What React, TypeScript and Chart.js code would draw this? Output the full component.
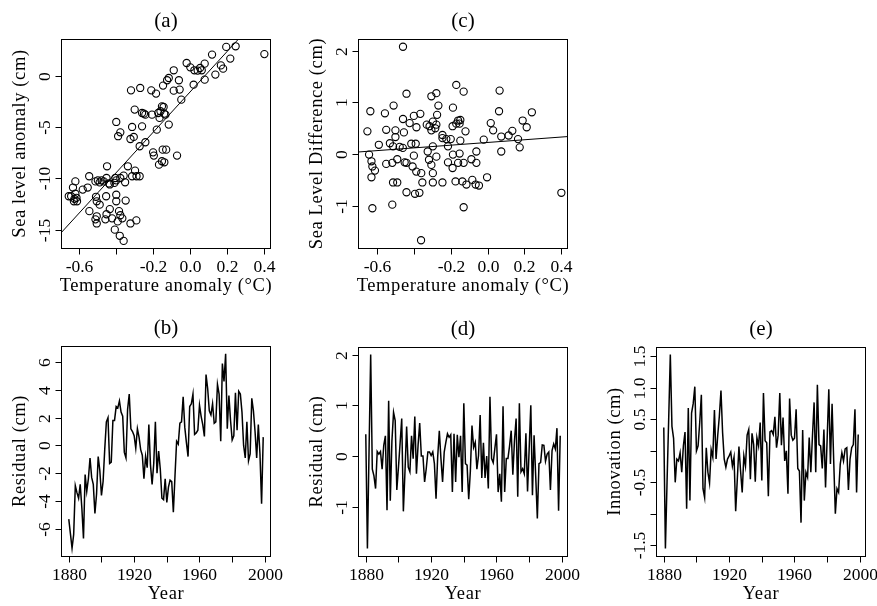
import React, { useEffect, useRef } from 'react';
import { Chart, registerables } from 'chart.js';

Chart.register(...registerables);

// ---------- data ----------
const years: number[] = Array.from({ length: 120 }, (_, i) => 1880 + i);

// (b) residual from the temperature regression, cm
const residualB: number[] = [
  -5.3, -6.35, -7.4, -6.4, -2.9, -3.4, -3.8, -2.8, -4.5, -6.7,
  -2.1, -3.3, -2.4, -0.9, -2.3, -2.8, -4.9, -3.5, -0.8, -1.8,
  -3.6, -2.6, -0.3, 1.7, 2.0, -1.3, -1.2, 1.8, 1.8, 2.8,
  2.7, 3.2, 2.4, 2.1, -0.5, -0.9, 2.6, 3.7, 1.2, 1.0,
  0.7, -0.2, 1.2, 0.6, -0.3, -0.7, -2.4, -0.8, -1.6, 1.5,
  -1.4, -2.8, -1.3, 1.7, -2.0, -0.4, -1.7, -3.8, -3.9, -2.4,
  -4.1, -3.0, -2.5, -2.6, -4.8, -2.2, 0.3, 0.1, 1.6, 1.7,
  3.5, 1.3, 0.2, -0.8, 2.8, 3.0, 3.7, 0.8, 0.9, 1.1,
  2.9, 2.1, 1.5, 0.65, 5.1, 4.1, 2.5, 2.2, 3.0, 1.6,
  1.7, 4.4, 3.7, 0.3, 5.9, 4.6, 6.6, 1.2, 3.6, 1.8,
  0.4, 0.7, 3.8, 1.1, 3.9, 3.7, 2.4, 0.0, -0.9, 1.7,
  -1.1, -0.6, 3.4, 2.5, 1.0, -0.9, 1.5, -0.6, -4.2, 0.6,
];

// (d) residual of the sea level difference, cm
const residualD: number[] = [
  0.43, -1.82, 0.1, 2.0, -0.26, -0.39, -0.64, 0.09, 0.04, 0.09,
  -0.26, 0.21, 0.40, -1.07, 1.09, -0.88, 0.3, 0.86, 0.70, -0.67,
  -0.22, 0.25, 0.74, -1.09, -0.3, 0.58, -0.22, -0.31, 0.40, -0.05,
  0.78, -0.35, 0.21, 0.65, 0.0, 0.0, -0.51, -0.25, 0.08, 0.08,
  0.01, 0.08, -0.15, -0.84, -0.02, 0.5, -0.05, -0.51, 0.08, 0.27,
  0.44, 0.37, 0.42, -0.71, 0.44, -0.51, 0.42, -0.02, 0.40, -0.71,
  1.04, -0.15, -0.18, -0.85, -0.3, 0.6, 0.17, 0.27, -0.26, 0.01,
  0.81, -0.43, 0.26, -0.43, 0.0, -0.64, 1.17, -0.05, -0.13, 0.15,
  0.43, -0.71, -0.35, -0.9, 0.98, -0.71, -0.05, -0.05, 0.2, 0.5,
  -0.37, 0.3, 0.74, -0.8, 1.04, -0.31, -0.25, -0.35, 0.45, -0.7,
  0.15, 1.0, -0.77, 0.41, -0.4, -1.23, -0.15, -0.13, 0.22, 0.21,
  -0.1, 0.04, 0.08, -0.67, 0.11, 0.24, 0.14, 0.55, -1.08, 0.4,
];

// (e) innovation, cm
const innovationE: number[] = [
  0.37, -1.55, -0.5, 0.5, 1.53, 0.39, 0.2, -0.5, -0.13, -0.16,
  -0.03, -0.34, 0.08, 0.3, -0.92, 0.68, -0.79, 0.6, 0.75, 1.02,
  0.0, 0.08, 0.45, 0.89, -0.6, -0.74, 0.05, -0.34, -0.51, 0.02,
  -0.1, 0.65, -0.13, 0.24, 0.55, 0.96, 0.29, -0.13, -0.26, -0.13,
  -0.08, -0.02, -0.24, -0.1, -0.96, -0.45, 0.07, -0.32, -0.66, -0.08,
  -0.24, 0.25, 0.34, -0.45, 0.28, 0.1, -0.49, 0.21, 0.08, 0.45,
  -0.47, 0.92, 0.16, 0.13, -0.72, 0.3, 0.32, 0.26, 0.54, 0.05,
  0.25, 0.92, 0.09, 0.53, -0.16, 0.0, -0.68, 0.83, 0.25, 0.17,
  0.2, 0.66, -0.28, -0.32, -1.14, 0.33, -0.79, -0.34, -0.42, 0.21,
  -0.34, 0.24, 0.77, -0.34, 1.05, 0.1, 0.08, -0.28, 0.34, -0.58,
  0.2, 0.98, -0.21, 0.75, -0.16, -1.0, -0.6, -0.66, -0.21, -0.03,
  -0.16, 0.03, 0.05, -0.62, -0.13, 0.05, 0.1, 0.66, -0.66, 0.26,
];

// (a) temperature anomaly vs sea level anomaly
const tempA: number[] = [
  0.404, 0.248, 0.197, 0.219, 0.12, 0.168, 0.18, 0.138, 0.08, 0.064,
  0.055, 0.042, 0.024, 0.002, -0.018, 0.08, 0.02, -0.047, -0.056, -0.06,
  -0.088, -0.088, -0.115, -0.124, -0.146, -0.184, -0.21, -0.27, -0.32, -0.30,
  -0.26, -0.242, -0.25, -0.206, -0.172, -0.165, -0.16, -0.152, -0.143, -0.14,
  -0.133, -0.115, -0.18, -0.26, -0.314, -0.323, -0.305, -0.378, -0.39, -0.40,
  -0.273, -0.242, -0.20, -0.196, -0.168, -0.152, -0.139, -0.148, -0.129, -0.07,
  -0.337, -0.298, -0.29, -0.273, -0.314, -0.36, -0.352, -0.378, -0.405, -0.41,
  -0.45, -0.453, -0.435, -0.468, -0.48, -0.49, -0.50, -0.513, -0.547, -0.555,
  -0.582, -0.622, -0.635, -0.622, -0.616, -0.627, -0.645, -0.658, -0.613, -0.63,
  -0.51, -0.455, -0.49, -0.506, -0.40, -0.40, -0.349, -0.546, -0.506, -0.513,
  -0.506, -0.459, -0.453, -0.435, -0.423, -0.385, -0.378, -0.367, -0.392, -0.408,
  -0.381, -0.36, -0.323, -0.291, -0.44, -0.40,
];
const seaA: number[] = [
  2.1, 2.86, 2.8, 1.66, 2.05, 1.0, 0.68, 0.1, 1.17, 0.52,
  0.75, 0.49, 0.52, 0.81, 1.23, -0.39, -0.88, -2.34, -1.36, -0.45,
  0.52, -1.46, -0.23, -0.45, -0.97, -1.75, -1.43, -1.2, -1.43, -3.31,
  -3.64, -3.8, -3.7, -3.8, -3.64, -4.12, -3.47, -2.99, -3.05, -3.7,
  -3.8, -4.77, -5.26, -4.94, -5.0, -6.17, -5.97, -5.52, -5.9, -4.51,
  -6.88, -6.49, -7.47, -7.79, -8.67, -8.34, -8.44, -7.21, -7.21, -7.79,
  -8.83, -9.25, -9.8, -9.8, -9.8, -9.74, -10.39, -9.97, -9.97, -10.45,
  -8.83, -9.97, -10.6, -10.3, -10.2, -10.4, -10.2, -10.3, -9.8, -10.9,
  -11.1, -10.3, -10.9, -11.5, -11.9, -12.0, -11.75, -11.75, -12.24, -12.24,
  -11.8, -11.75, -12.57, -12.24, -11.6, -12.24, -12.17, -13.2, -13.7, -14.0,
  -14.4, -14.0, -13.5, -13.0, -13.9, -13.2, -13.6, -13.9, -14.2, -15.0,
  -15.6, -16.1, -14.4, -14.1, -10.5, -10.2,
];
const interceptA = -1.6;
const slopeA = 19.6;

// (c) temperature anomaly vs sea level difference
const tempC: number[] = [
  -0.459, -0.17, -0.13, 0.065, -0.44, -0.278, -0.305, -0.636, -0.51, -0.557,
  -0.459, -0.4, -0.365, -0.267, -0.188, -0.274, 0.062, 0.19, 0.24, 0.212,
  -0.652, -0.55, -0.5, -0.454, -0.423, -0.5, -0.386, -0.33, -0.315, -0.297,
  -0.278, -0.284, -0.305, -0.245, -0.245, -0.19, -0.17, -0.16, -0.148, -0.152,
  -0.2, -0.12, -0.148, 0.017, 0.03, -0.021, 0.074, 0.114, 0.134, 0.165,
  0.174, 0.074, -0.59, -0.53, -0.513, -0.477, -0.45, -0.414, -0.39, -0.325,
  -0.318, -0.305, -0.297, -0.278, -0.297, -0.297, -0.354, -0.36, -0.387, -0.4,
  -0.407, -0.44, -0.49, -0.55, -0.517, -0.513, -0.49, -0.63, -0.625, -0.611,
  -0.643, -0.63, -0.625, -0.517, -0.44, -0.394, -0.37, -0.245, -0.215, -0.19,
  -0.188, -0.174, -0.16, -0.152, -0.137, -0.13, -0.115, -0.13, -0.088, -0.083,
  -0.065, -0.061, -0.061, -0.047, -0.003, -0.361, 0.4, -0.224, -0.215, -0.46,
];
const diffC: number[] = [
  2.08, 1.34, 1.21, 1.23, 1.17, 1.18, 1.12, 0.83, 0.94, 0.79,
  0.68, 0.74, 0.78, 0.94, 0.9, 0.76, 0.83, 0.65, 0.81, 0.52,
  0.44, 0.47, 0.46, 0.42, 0.6, 0.33, 0.52, 0.57, 0.54, 0.63,
  0.57, 0.5, 0.46, 0.37, 0.31, 0.54, 0.59, 0.65, 0.66, 0.59,
  0.29, 0.44, 0.26, 0.6, 0.46, 0.28, 0.34, 0.36, 0.45, 0.29,
  0.13, 0.05, 0.18, 0.21, 0.15, 0.14, -0.16, 0.2, 0.2, 0.05,
  -0.11, -0.21, -0.37, -0.05, 0.15, -0.55, -0.55, -0.37, -0.34, -0.03,
  -0.24, -0.17, -0.1, -0.19, -0.17, -0.55, -0.55, -0.14, -0.24, -0.32,
  -0.01, -0.45, -1.05, -0.98, -0.74, -0.77, -0.75, -0.55, -0.16, -0.27,
  -0.01, -0.53, -0.17, 0.01, -0.53, -0.17, -0.59, -1.03, -0.1, -0.5,
  -0.59, 0.05, -0.17, -0.61, -0.45, -1.67, -0.75, 0.29, 0.15, 0.12,
];
const interceptC = 0.225;
const slopeC = 0.263;

// tick values and labels
const tempTicks = [-0.6, -0.4, -0.2, 0.0, 0.2, 0.4];
const tempTickLabels = ['-0.6', '', '-0.2', '0.0', '0.2', '0.4'];
const yearTicks = [1880, 1900, 1920, 1940, 1960, 1980, 2000];
const yearTickLabels = ['1880', '', '1920', '', '1960', '', '2000'];
const seaTicksA = [-15, -10, -5, 0];
const seaTickLabelsA = ['-15', '-10', '-5', '0'];
const diffTicksC = [-1, 0, 1, 2];
const diffTickLabelsC = ['-1', '0', '1', '2'];
const resTicksB = [-6, -4, -2, 0, 2, 4, 6];
const resTickLabelsB = ['-6', '-4', '-2', '0', '2', '4', '6'];
const resTicksD = [-1, 0, 1, 2];
const resTickLabelsD = ['-1', '0', '1', '2'];
const innTicksE = [-1.5, -1.0, -0.5, 0.0, 0.5, 1.0, 1.5];
const innTickLabelsE = ['-1.5', '', '-0.5', '', '0.5', '1.0', '1.5'];

// ---------- drawing ----------
const FONT = '"Liberation Serif", "Times New Roman", serif';
const PAD_L = 61;
const PAD_T = 39;
const PAD_R = 24;

interface Spec {
  key: string;
  left: number; top: number; w: number; h: number; canvasH: number;
  title: string; xTitle: string; yTitle: string;
  xMin: number; xMax: number; yMin: number; yMax: number;
  xTicks: number[]; xLabels: string[]; yTicks: number[]; yLabels: string[];
  datasets: any[];
}

function rAxes(spec: Spec) {
  return {
    id: 'rAxes',
    afterDraw(chart: any) {
      const ctx: CanvasRenderingContext2D = chart.ctx;
      const { left, right, top, bottom } = chart.chartArea;
      const xs = chart.scales.x;
      const ys = chart.scales.y;
      ctx.save();
      ctx.strokeStyle = '#000';
      ctx.fillStyle = '#000';
      ctx.lineWidth = 1;
      ctx.strokeRect(left + 0.5, top + 0.5, right - left - 1, bottom - top);
      // x ticks
      ctx.font = `17.5px ${FONT}`;
      ctx.textAlign = 'center';
      ctx.textBaseline = 'alphabetic';
      spec.xTicks.forEach((v, i) => {
        const px = Math.round(xs.getPixelForValue(v)) + 0.5;
        ctx.beginPath();
        ctx.moveTo(px, bottom + 0.5);
        ctx.lineTo(px, bottom + 6.5);
        ctx.stroke();
        if (spec.xLabels[i]) ctx.fillText(spec.xLabels[i], px, bottom + 23.5);
      });
      // y ticks
      spec.yTicks.forEach((v, i) => {
        const py = Math.round(ys.getPixelForValue(v)) + 0.5;
        ctx.beginPath();
        ctx.moveTo(left + 0.5, py);
        ctx.lineTo(left - 5.5, py);
        ctx.stroke();
        if (spec.yLabels[i]) {
          ctx.save();
          ctx.translate(left - 11, py);
          ctx.rotate(-Math.PI / 2);
          ctx.fillText(spec.yLabels[i], 0, 0);
          ctx.restore();
        }
      });
      // axis titles
      ctx.font = `18.5px ${FONT}`;
      (ctx as any).letterSpacing = '0.6px';
      ctx.fillText(spec.xTitle, (left + right) / 2, bottom + 43);
      ctx.save();
      ctx.translate(left - 36, (top + bottom) / 2);
      ctx.rotate(-Math.PI / 2);
      ctx.fillText(spec.yTitle, 0, 0);
      ctx.restore();
      (ctx as any).letterSpacing = '0px';
      // panel title
      ctx.font = `21px ${FONT}`;
      ctx.fillText(spec.title, (left + right) / 2, top - 12.5);
      ctx.restore();
    },
  };
}

function Panel({ spec }: { spec: Spec }) {
  const ref = useRef<HTMLCanvasElement>(null);
  const cw = PAD_L + spec.w + PAD_R;
  const ch = spec.canvasH;
  useEffect(() => {
    if (!ref.current) return;
    const chart = new Chart(ref.current, {
      type: 'scatter',
      data: { datasets: spec.datasets },
      options: {
        animation: false,
        responsive: false,
        events: [],
        layout: {
          padding: { left: PAD_L, top: PAD_T, right: PAD_R, bottom: ch - PAD_T - spec.h },
        },
        scales: {
          x: { type: 'linear', display: false, min: spec.xMin, max: spec.xMax },
          y: { type: 'linear', display: false, min: spec.yMin, max: spec.yMax },
        },
        plugins: { legend: { display: false }, tooltip: { enabled: false } },
      } as any,
      plugins: [rAxes(spec)],
    });
    return () => chart.destroy();
  }, []);
  return (
    <canvas
      ref={ref}
      width={cw}
      height={ch}
      style={{ position: 'absolute', left: spec.left - PAD_L, top: spec.top - PAD_T, width: cw, height: ch }}
    />
  );
}

const pointStyle = {
  showLine: false,
  pointRadius: 3.6,
  pointStyle: 'circle',
  borderColor: '#000',
  backgroundColor: 'rgba(0,0,0,0)',
  borderWidth: 1.1,
};
const fitStyle = {
  showLine: true,
  pointRadius: 0,
  borderColor: '#000',
  borderWidth: 1,
};
const seriesStyle = {
  showLine: true,
  pointRadius: 0,
  borderColor: '#000',
  borderWidth: 1.5,
  tension: 0,
};

const fitEnds = [-0.8, 0.6];

const specs: Spec[] = [
  {
    key: 'a', left: 61, top: 39, w: 210, h: 209, canvasH: 306,
    title: '(a)', xTitle: 'Temperature anomaly (°C)', yTitle: 'Sea level anomaly (cm)',
    xMin: -0.7, xMax: 0.44, yMin: -16.79, yMax: 3.57,
    xTicks: tempTicks, xLabels: tempTickLabels, yTicks: seaTicksA, yLabels: seaTickLabelsA,
    datasets: [
      { ...pointStyle, data: tempA.map((t, i) => ({ x: t, y: seaA[i] })) },
      { ...fitStyle, data: fitEnds.map((t) => ({ x: t, y: interceptA + slopeA * t })) },
    ],
  },
  {
    key: 'c', left: 358, top: 39, w: 210, h: 209, canvasH: 306,
    title: '(c)', xTitle: 'Temperature anomaly (°C)', yTitle: 'Sea Level Difference (cm)',
    xMin: -0.703, xMax: 0.436, yMin: -1.82, yMax: 2.23,
    xTicks: tempTicks, xLabels: tempTickLabels, yTicks: diffTicksC, yLabels: diffTickLabelsC,
    datasets: [
      { ...pointStyle, data: tempC.map((t, i) => ({ x: t, y: diffC[i] })) },
      { ...fitStyle, data: fitEnds.map((t) => ({ x: t, y: interceptC + slopeC * t })) },
    ],
  },
  {
    key: 'b', left: 61, top: 346, w: 210, h: 210, canvasH: 299,
    title: '(b)', xTitle: 'Year', yTitle: 'Residual (cm)',
    xMin: 1875.24, xMax: 2003.76, yMin: -7.96, yMax: 7.16,
    xTicks: yearTicks, xLabels: yearTickLabels, yTicks: resTicksB, yLabels: resTickLabelsB,
    datasets: [{ ...seriesStyle, data: years.map((yr, i) => ({ x: yr, y: residualB[i] })) }],
  },
  {
    key: 'd', left: 358, top: 347, w: 210, h: 209, canvasH: 298,
    title: '(d)', xTitle: 'Year', yTitle: 'Residual (cm)',
    xMin: 1875.24, xMax: 2003.76, yMin: -1.97, yMax: 2.15,
    xTicks: yearTicks, xLabels: yearTickLabels, yTicks: resTicksD, yLabels: resTickLabelsD,
    datasets: [{ ...seriesStyle, data: years.map((yr, i) => ({ x: yr, y: residualD[i] })) }],
  },
  {
    key: 'e', left: 656, top: 347, w: 210, h: 209, canvasH: 298,
    title: '(e)', xTitle: 'Year', yTitle: 'Innovation (cm)',
    xMin: 1875.24, xMax: 2003.76, yMin: -1.67, yMax: 1.65,
    xTicks: yearTicks, xLabels: yearTickLabels, yTicks: innTicksE, yLabels: innTickLabelsE,
    datasets: [{ ...seriesStyle, data: years.map((yr, i) => ({ x: yr, y: innovationE[i] })) }],
  },
];

export default function App() {
  return (
    <div
      style={{
        position: 'absolute',
        left: 0,
        top: 0,
        width: 877,
        height: 606,
        overflow: 'hidden',
        background: '#fff',
      }}
    >
      {specs.map((s) => (
        <Panel key={s.key} spec={s} />
      ))}
    </div>
  );
}
